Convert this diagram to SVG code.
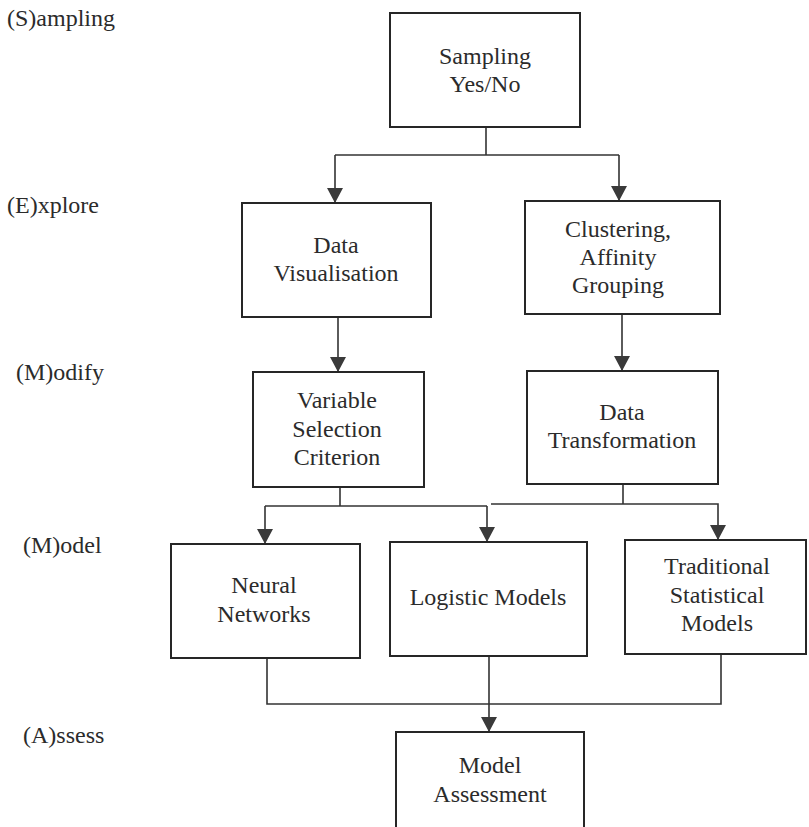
<svg xmlns="http://www.w3.org/2000/svg" width="809" height="827" viewBox="0 0 809 827">
<style>
.box{fill:#ffffff;stroke:#262626;stroke-width:2}
.t{font-family:'Liberation Serif','DejaVu Serif','Times New Roman',Times,serif;font-size:24px;fill:#2b2b2b;text-anchor:middle}
.lbl{font-family:'Liberation Serif','DejaVu Serif','Times New Roman',Times,serif;font-size:24px;fill:#2b2b2b}
.c{fill:none;stroke:#333333;stroke-width:1.6}
.a{marker-end:url(#ah)}
</style>
<defs>
<marker id="ah" viewBox="0 0 15 16" refX="15" refY="8" markerWidth="15" markerHeight="16" markerUnits="userSpaceOnUse" orient="auto">
<path d="M0,0 L15,8 L0,16 z" fill="#3a3a3a"/>
</marker>
</defs>
<rect width="809" height="827" fill="#ffffff"/>

<g id="stage-labels">
<text class="lbl" x="7" y="26">(S)ampling</text>
<text class="lbl" x="7" y="213">(E)xplore</text>
<text class="lbl" x="16" y="380">(M)odify</text>
<text class="lbl" x="23" y="553">(M)odel</text>
<text class="lbl" x="23" y="743">(A)ssess</text>
</g>

<g id="connectors">
<path class="c" d="M486 127 V155"/>
<path class="c" d="M335 155 H619"/>
<path class="c a" d="M335 155 V203"/>
<path class="c a" d="M619 155 V201"/>
<path class="c a" d="M338 317 V372"/>
<path class="c a" d="M622 314 V371"/>
<path class="c" d="M340 487 V506"/>
<path class="c" d="M265 506 H487"/>
<path class="c a" d="M265 506 V544"/>
<path class="c a" d="M487 506 V542"/>
<path class="c" d="M623 484 V504"/>
<path class="c a" d="M491 504 H718 V540"/>
<path class="c" d="M267 658 V704 H721 V654"/>
<path class="c a" d="M489 656 V732"/>
</g>

<g id="node-sampling">
<rect class="box" x="390" y="13" width="190" height="114"/>
<text class="t" x="485" y="64">Sampling</text>
<text class="t" x="485" y="92">Yes/No</text>
</g>

<g id="node-data-visualisation">
<rect class="box" x="242" y="203" width="189" height="114"/>
<text class="t" x="336" y="253">Data</text>
<text class="t" x="336" y="281">Visualisation</text>
</g>

<g id="node-clustering">
<rect class="box" x="525" y="201" width="195" height="113"/>
<text class="t" x="618" y="237">Clustering,</text>
<text class="t" x="618" y="265">Affinity</text>
<text class="t" x="618" y="293">Grouping</text>
</g>

<g id="node-variable-selection">
<rect class="box" x="253" y="372" width="171" height="115"/>
<text class="t" x="337" y="408">Variable</text>
<text class="t" x="337" y="437">Selection</text>
<text class="t" x="337" y="465">Criterion</text>
</g>

<g id="node-data-transformation">
<rect class="box" x="527" y="371" width="191" height="113"/>
<text class="t" x="622" y="420">Data</text>
<text class="t" x="622" y="448">Transformation</text>
</g>

<g id="node-neural-networks">
<rect class="box" x="171" y="544" width="189" height="114"/>
<text class="t" x="264" y="593">Neural</text>
<text class="t" x="264" y="622">Networks</text>
</g>

<g id="node-logistic-models">
<rect class="box" x="390" y="542" width="197" height="114"/>
<text class="t" x="488" y="605">Logistic Models</text>
</g>

<g id="node-traditional-models">
<rect class="box" x="625" y="540" width="181" height="114"/>
<text class="t" x="717" y="574">Traditional</text>
<text class="t" x="717" y="603">Statistical</text>
<text class="t" x="717" y="631">Models</text>
</g>

<g id="node-model-assessment">
<rect class="box" x="396" y="732" width="188" height="110"/>
<text class="t" x="490" y="773">Model</text>
<text class="t" x="490" y="802">Assessment</text>
</g>
</svg>
